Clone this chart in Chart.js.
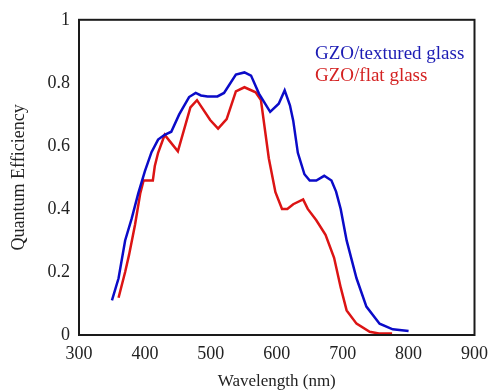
<!DOCTYPE html>
<html>
<head>
<meta charset="utf-8">
<script src="https://cdn.jsdelivr.net/npm/chart.js@4.4.0/dist/chart.umd.min.js"></script>
<style>
  html, body { margin: 0; padding: 0; background: #ffffff; }
  #wrap { width: 496px; height: 392px; }
</style>
</head>
<body>
<div id="wrap"><canvas id="qeChart" width="496" height="392"></canvas></div>
<script>
// wavelength (nm) and quantum efficiency
const texturedWavelength = [350, 360, 370, 380, 390, 400, 410, 420, 430, 440, 452, 467, 477, 485, 495, 510, 520, 538, 551, 561, 573, 590, 603, 612, 620, 625, 632, 642, 650, 660, 672, 683, 690, 697, 706, 721, 736, 756, 776, 800];
const texturedQE = [0.11, 0.18, 0.30, 0.37, 0.45, 0.52, 0.58, 0.62, 0.635, 0.645, 0.70, 0.755, 0.768, 0.76, 0.757, 0.757, 0.768, 0.826, 0.833, 0.823, 0.766, 0.708, 0.734, 0.776, 0.729, 0.68, 0.578, 0.51, 0.49, 0.49, 0.505, 0.49, 0.455, 0.40, 0.30, 0.18, 0.09, 0.036, 0.018, 0.0125];

const flatWavelength = [360, 370, 376, 385, 393, 398, 412, 415, 420, 430, 450, 469, 479, 499, 511, 524, 538, 551, 568, 576, 588, 598, 608, 616, 625, 640, 647, 660, 674, 687, 697, 706, 721, 741, 755, 775];
const flatQE = [0.118, 0.20, 0.255, 0.35, 0.45, 0.49, 0.49, 0.536, 0.578, 0.635, 0.583, 0.722, 0.745, 0.682, 0.655, 0.685, 0.773, 0.786, 0.77, 0.745, 0.56, 0.453, 0.40, 0.40, 0.415, 0.43, 0.40, 0.364, 0.318, 0.245, 0.151, 0.078, 0.036, 0.01, 0.005, 0.005];

const seriesLabels = ['GZO/textured glass', 'GZO/flat glass'];
const xTicks = [300, 400, 500, 600, 700, 800, 900];
const yTicks = [0, 0.2, 0.4, 0.6, 0.8, 1];

const serif = "'Liberation Serif', 'Times New Roman', serif";

function toPoints(xs, ys) {
  return xs.map((x, i) => ({ x, y: ys[i] }));
}

// box around the plot area
const frameBox = {
  id: 'frameBox',
  afterDatasetsDraw(chart) {
    const { ctx, chartArea: a } = chart;
    ctx.save();
    ctx.strokeStyle = '#1a1a1a';
    ctx.lineWidth = 2;
    ctx.strokeRect(a.left, a.top, a.right - a.left, a.bottom - a.top);
    ctx.restore();
  }
};

// coloured text legend inside the plot
const textLegend = {
  id: 'textLegend',
  afterDraw(chart) {
    const { ctx, chartArea: a } = chart;
    ctx.save();
    ctx.font = "19px " + serif;
    ctx.textBaseline = 'middle';
    ctx.textAlign = 'left';
    const textColors = ['#1c1cb4', '#d42222'];
    chart.data.datasets.forEach((ds, i) => {
      ctx.fillStyle = textColors[i];
      ctx.fillText(ds.label, a.left + 236, a.top + 34 + i * 22);
    });
    ctx.restore();
  }
};

new Chart(document.getElementById('qeChart'), {
  type: 'line',
  data: {
    datasets: [
      {
        label: seriesLabels[0],
        data: toPoints(texturedWavelength, texturedQE),
        borderColor: '#0b0bc8',
        borderWidth: 2.5,
        pointRadius: 0,
        tension: 0,
        fill: false
      },
      {
        label: seriesLabels[1],
        data: toPoints(flatWavelength, flatQE),
        borderColor: '#dc1414',
        borderWidth: 2.5,
        pointRadius: 0,
        tension: 0,
        fill: false
      }
    ]
  },
  options: {
    responsive: false,
    animation: false,
    devicePixelRatio: 1,
    layout: { padding: { top: 15, right: 12, left: 0, bottom: 0 } },
    plugins: {
      legend: { display: false },
      tooltip: { enabled: false }
    },
    scales: {
      x: {
        type: 'linear',
        min: xTicks[0],
        max: xTicks[xTicks.length - 1],
        afterBuildTicks: scale => { scale.ticks = xTicks.map(v => ({ value: v })); },
        afterFit: scale => { scale.height = 57; },
        grid: { display: false, drawTicks: false },
        border: { display: false },
        ticks: { color: '#222', font: { family: serif, size: 18 }, padding: 8, maxRotation: 0 },
        title: {
          display: true,
          text: 'Wavelength (nm)',
          color: '#222',
          font: { family: serif, size: 17 },
          padding: { top: 0, bottom: 0 }
        }
      },
      y: {
        min: yTicks[0],
        max: yTicks[yTicks.length - 1],
        afterBuildTicks: scale => { scale.ticks = yTicks.map(v => ({ value: v })); },
        afterFit: scale => { scale.width = 79; },
        grid: { display: false, drawTicks: false },
        border: { display: false },
        ticks: {
          color: '#222',
          font: { family: serif, size: 18 },
          padding: 9,
          callback: value => String(value)
        },
        title: {
          display: true,
          text: 'Quantum Efficiency',
          color: '#222',
          font: { family: serif, size: 18 },
          padding: { top: 8, bottom: 0 }
        }
      }
    }
  },
  plugins: [frameBox, textLegend]
});
</script>
</body>
</html>
